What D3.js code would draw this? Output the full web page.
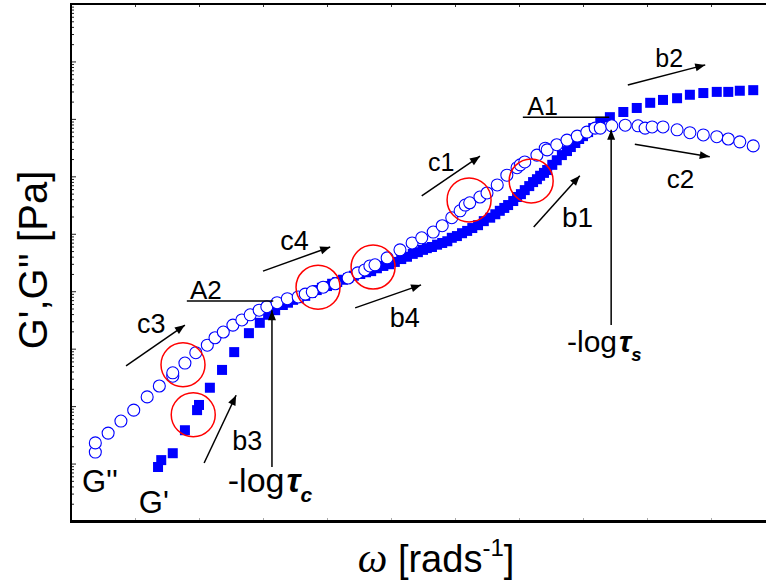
<!DOCTYPE html>
<meta charset="utf-8">
<html>
<head>
<title>G' G'' vs omega</title>
<script src="https://d3js.org/d3.v7.min.js"></script>
<style>
  body { margin: 0; background: #fff; }
  text { font-family: "Liberation Sans", Arial, sans-serif; fill: #000; }
</style>
</head>
<body>
<svg width="766" height="585"></svg>
<script>
// omega position (axis units, unlabeled) and log10 of modulus
var gppX = [0.38,0.38,0.58,0.78,0.98,1.19,1.38,1.59,1.59,1.78,1.95,2.13,2.25,2.38,2.53,2.67,2.80,2.94,3.06,3.22,3.38,
            3.55,3.66,3.77,3.94,4.13,4.33,4.48,4.59,4.67,4.75,4.94,5.14,5.33,5.48,5.66,5.80,5.95,6.08,6.16,6.23,6.39,6.50,6.66,6.81,
            6.97,7.02,7.09,7.28,7.41,7.44,7.59,7.75,7.91,8.06,8.19,8.27,8.45,8.66,8.86,8.97,9.08,9.25,9.47,9.67,9.88,10.09,10.27,10.45,10.66];
var gppLog = [1.20,1.36,1.53,1.74,1.93,2.16,2.35,2.52,2.58,2.75,2.93,3.06,3.19,3.29,3.41,3.50,3.59,3.67,3.73,3.80,3.87,
              3.90,3.95,3.99,4.07,4.13,4.23,4.32,4.37,4.44,4.46,4.58,4.72,4.84,4.93,5.03,5.14,5.28,5.40,5.50,5.54,5.64,5.71,5.85,6.02,
              6.15,6.20,6.25,6.37,6.49,6.46,6.55,6.63,6.70,6.77,6.84,6.84,6.88,6.89,6.88,6.84,6.86,6.86,6.81,6.76,6.72,6.69,6.65,6.60,6.53];

var gpX = [1.36,1.41,1.59,1.78,1.97,2.00,2.17,2.36,2.55,2.78,2.95,3.08,3.19,
           3.31,3.39,3.47,3.56,3.66,3.75,3.84,3.92,4.00,4.08,4.16,4.25,4.33,4.42,4.52,4.61,4.69,4.78,4.88,4.97,
           5.06,5.16,5.25,5.34,5.42,5.50,5.56,5.64,5.72,5.80,5.88,5.95,6.03,6.11,6.19,6.27,6.36,6.45,6.55,6.63,
           6.70,6.77,6.83,6.91,6.97,7.03,7.09,7.16,7.22,7.28,7.33,7.39,7.44,7.52,7.59,7.67,7.75,7.81,7.88,7.94,
           8.00,8.08,8.16,8.27,8.42,8.63,8.84,9.05,9.25,9.47,9.67,9.88,10.09,10.27,10.45,10.66];
var gpLog = [0.94,1.06,1.18,1.58,1.93,2.02,2.32,2.63,2.94,3.27,3.45,3.59,3.67,
             3.76,3.80,3.85,3.88,3.92,3.97,4.02,4.06,4.09,4.13,4.16,4.20,4.23,4.27,4.30,4.33,4.35,4.40,4.44,4.47,
             4.51,4.56,4.60,4.65,4.68,4.72,4.75,4.77,4.81,4.84,4.87,4.93,4.96,5.01,5.05,5.10,5.15,5.22,5.28,5.34,
             5.40,5.45,5.50,5.57,5.64,5.69,5.76,5.83,5.90,5.95,6.01,6.06,6.11,6.20,6.28,6.37,6.44,6.51,6.58,6.65,
             6.70,6.77,6.84,6.95,7.03,7.12,7.19,7.28,7.33,7.36,7.42,7.45,7.47,7.47,7.49,7.50];

// red highlight circles
var ringX = [1.75,1.91,3.86,4.72,6.22,7.19];
var ringLog = [2.72,1.85,4.07,4.42,5.59,5.92];

// arrows: start and end
var arrowNames = ["c3","b3","tc","c4","b4","c1","b1","ts","b2","c2"];
var arrowX0 = [0.86,2.08,3.14,3.00,4.44,5.48,7.23,8.44,8.70,8.81];
var arrowY0 = [2.70,1.01,0.94,4.35,3.71,5.66,5.12,3.41,7.59,6.56];
var arrowX1 = [1.78,2.58,3.14,4.05,5.47,6.39,7.95,8.44,9.91,9.98];
var arrowY1 = [3.41,2.19,3.67,4.77,4.11,6.35,6.01,6.81,7.94,6.34];

// plateau lines A2, A1
var flatX0 = [1.81,7.06];
var flatX1 = [3.16,8.41];
var flatY = [3.83,7.03];

// labels
var labelText = ["c3","b3","A2","c4","b4","c1","b1","A1","c2","b2","G''","G'"];
var labelX = [1.03,2.52,1.86,3.27,4.98,5.58,7.67,7.13,9.31,9.13,0.17,1.06];
var labelLog = [3.27,1.24,3.87,4.72,3.38,6.09,5.12,7.07,5.80,7.90,0.50,0.14];
var labelSize = [27,27,26,27,27,25,28,25,26,25,31,31];

var tauSub = ["c","s"];
var tauX = [2.45,7.75];
var tauLog = [0.50,2.94];
var tauSize = [34,30];

var svg = d3.select("svg"),
    plotLeft = 71, plotRight = 775, plotTop = 4, plotBottom = 521;

var x = d3.scaleLinear().domain([0, 11]).range([plotLeft, plotRight]);
var y = d3.scaleLog().domain([1, 1e9]).range([plotBottom, plotTop]);
function yl(v) { return y(Math.pow(10, v)); }

// log ticks on left axis
var yTicks = [];
for (var k = 0; k < 9; k++) for (var m = 1; m < 10; m++) yTicks.push(m * Math.pow(10, k));
yTicks.push(1e9);

svg.append("g")
    .attr("transform", "translate(" + plotLeft + ",0)")
    .call(d3.axisRight(y).tickValues(yTicks).tickFormat("").tickSize(3).tickSizeOuter(0))
    .call(function(g) {
        g.select(".domain").remove();
        g.selectAll(".tick line").attr("stroke", "#222")
            .attr("x2", function(d) { return Math.abs(Math.log10(d) - Math.round(Math.log10(d))) < 1e-9 ? 5 : 3; });
    });

svg.append("g")
    .attr("transform", "translate(0," + plotTop + ")")
    .call(d3.axisBottom(x).ticks(11).tickFormat("").tickSize(3).tickSizeOuter(0))
    .call(function(g) { g.select(".domain").remove(); g.selectAll(".tick line").attr("stroke", "#333"); });

svg.append("g")
    .attr("transform", "translate(0," + plotBottom + ")")
    .call(d3.axisTop(x).ticks(11).tickFormat("").tickSize(3).tickSizeOuter(0))
    .call(function(g) { g.select(".domain").remove(); g.selectAll(".tick line").attr("stroke", "#aaa"); });

// frame
svg.append("line").attr("x1", plotLeft).attr("x2", 766).attr("y1", plotTop).attr("y2", plotTop)
    .attr("stroke", "#000").attr("stroke-width", 2);
svg.append("line").attr("x1", plotLeft).attr("x2", plotLeft).attr("y1", plotTop - 1).attr("y2", plotBottom)
    .attr("stroke", "#000").attr("stroke-width", 2);
svg.append("line").attr("x1", plotLeft - 1).attr("x2", 766).attr("y1", plotBottom + 0.5).attr("y2", plotBottom + 0.5)
    .attr("stroke", "#000").attr("stroke-width", 3);

// G' filled squares
var sq = 10;
svg.append("g").selectAll("rect")
    .data(d3.zip(gpX, gpLog))
    .join("rect")
    .attr("x", function(d) { return x(d[0]) - sq / 2; })
    .attr("y", function(d) { return yl(d[1]) - sq / 2; })
    .attr("width", sq).attr("height", sq)
    .attr("fill", "#0000ff");

// G'' open circles
svg.append("g").selectAll("circle")
    .data(d3.zip(gppX, gppLog))
    .join("circle")
    .attr("cx", function(d) { return x(d[0]); })
    .attr("cy", function(d) { return yl(d[1]); })
    .attr("r", 6)
    .attr("fill", "#fff").attr("stroke", "#0000ff").attr("stroke-width", 1.1);

// red rings
svg.append("g").selectAll("circle")
    .data(d3.zip(ringX, ringLog))
    .join("circle")
    .attr("cx", function(d) { return x(d[0]); })
    .attr("cy", function(d) { return yl(d[1]); })
    .attr("r", 22)
    .attr("fill", "none").attr("stroke", "#ff0000").attr("stroke-width", 1.5);

// arrows
svg.append("defs").append("marker")
    .attr("id", "head").attr("viewBox", "0 0 10 10")
    .attr("refX", 10).attr("refY", 5)
    .attr("markerWidth", 16).attr("markerHeight", 10)
    .attr("markerUnits", "userSpaceOnUse")
    .attr("orient", "auto")
    .append("path").attr("d", "M0,1 L10,5 L0,9 Z").attr("fill", "#000");

svg.append("g").selectAll("line")
    .data(d3.range(arrowNames.length))
    .join("line")
    .attr("x1", function(i) { return x(arrowX0[i]); })
    .attr("y1", function(i) { return yl(arrowY0[i]); })
    .attr("x2", function(i) { return x(arrowX1[i]); })
    .attr("y2", function(i) { return yl(arrowY1[i]); })
    .attr("stroke", "#000").attr("stroke-width", 1.5)
    .attr("marker-end", "url(#head)");

svg.append("g").selectAll("line")
    .data(d3.range(flatY.length))
    .join("line")
    .attr("x1", function(i) { return x(flatX0[i]); })
    .attr("x2", function(i) { return x(flatX1[i]); })
    .attr("y1", function(i) { return yl(flatY[i]); })
    .attr("y2", function(i) { return yl(flatY[i]); })
    .attr("stroke", "#000").attr("stroke-width", 1.5);

svg.append("g").selectAll("text")
    .data(d3.range(labelText.length))
    .join("text")
    .attr("x", function(i) { return x(labelX[i]); })
    .attr("y", function(i) { return yl(labelLog[i]); })
    .attr("font-size", function(i) { return labelSize[i]; })
    .text(function(i) { return labelText[i]; });

// -log tau labels
tauSub.forEach(function(s, i) {
    var t = svg.append("text")
        .attr("x", x(tauX[i])).attr("y", yl(tauLog[i]))
        .attr("font-size", tauSize[i]);
    t.append("tspan").text("-log");
    t.append("tspan").attr("font-style", "italic").attr("font-weight", "bold")
        .attr("dx", 2).text("\u03c4");
    t.append("tspan").attr("font-style", "italic").attr("font-weight", "bold")
        .attr("font-size", tauSize[i] * 0.62).attr("dy", tauSize[i] * 0.28).text(s);
});

// axis titles
var xt = svg.append("text").attr("x", 436).attr("y", 572)
    .attr("text-anchor", "middle").attr("font-size", 38);
xt.append("tspan").attr("font-family", "Liberation Serif").attr("font-style", "italic")
    .attr("font-size", 42).text("\u03c9");
xt.append("tspan").text(" [rads");
xt.append("tspan").attr("font-size", 24).attr("dy", -16).text("-1");
xt.append("tspan").attr("dy", 16).text("]");

svg.append("text")
    .attr("transform", "translate(47,260) rotate(-90)")
    .attr("text-anchor", "middle").attr("font-size", 40)
    .text("G',G'' [Pa]");
</script>
</body>
</html>
